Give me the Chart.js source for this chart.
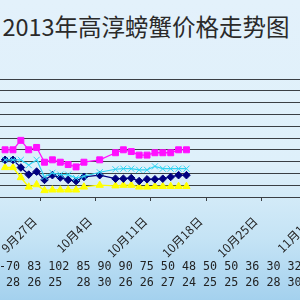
<!DOCTYPE html>
<html>
<head>
<meta charset="utf-8">
<script src="https://cdn.jsdelivr.net/npm/chart.js@4.4.1/dist/chart.umd.min.js"></script>
<style>
  html, body { margin: 0; padding: 0; }
  body {
    width: 300px; height: 300px; overflow: hidden; position: relative;
    background: linear-gradient(to bottom, #e3f1fb 0%, #def0fa 55%, #c4e3f5 80%, #a4d1ee 100%);
  }
  #title {
    position: absolute; left: 0; top: 13px; width: 292px;
    text-align: center; white-space: nowrap;
    font: 23.5px/26px "Noto Sans CJK SC", sans-serif; color: #2a2a2a;
  }
  /* canvas is wider than the window: the reference is a crop of a bigger chart */
  #wrap { position: absolute; left: -30px; top: 0; width: 370px; height: 300px; }
  .row {
    position: absolute; left: -1px; white-space: pre;
    font: 11.7px/14px "DejaVu Sans Mono", monospace; color: #222;
  }
</style>
</head>
<body>
<div id="title">2013年高淳螃蟹价格走势图</div>
<div id="wrap"><canvas id="priceChart"></canvas></div>
<div class="row" id="row1" style="top:259px"></div>
<div class="row" id="row2" style="top:275px"></div>

<script>
// one point per day, 9月22日 .. 10月15日 (null = no quote that day)
const dates = ['9月22日','9月23日','9月24日','9月25日','9月26日','9月27日','9月28日','9月29日',
  '9月30日','10月1日','10月2日','10月3日','10月4日','10月5日','10月6日','10月7日',
  '10月8日','10月9日','10月10日','10月11日','10月12日','10月13日','10月14日','10月15日'];

const pinkSeries   = [80, 80, 96, 80, 84, 59, 63, 59, 55, 51, 59, null, 63, null, 75, 80, 77, 71, 71, 75, 75, 75, 80, 80];
const cyanSeries   = [63, 63, 63, 54, 63, 34, 41, 38, 38, 32, 35, null, 42, null, 47, 48, 48, 46, 46, 52, 48, 48, 48, 48];
const navySeries   = [63, 63, 50, 38, 43, 29, 37, 33, 29, 27, 34, null, 37, null, 31, 31, 32, 27, 30, 30, 31, 34, 37, 37];
const yellowSeries = [50, 50, 33, 17, 21, 11, 12, 12, 12, 12, 17, null, 20, null, 19, 20, 20, 17, 17, 18, 18, 18, 18, 18];

// weekly axis ticks (day number counted from 9月22日)
const tickDays   = [5, 12, 19, 26, 33, 40];
const tickLabels = ['9月27日', '10月4日', '10月11日', '10月18日', '10月25日', '11月1日'];

// text rows printed under the chart
const tableRow1 = '-70 83 102 85 90 90 75 50 48 50 50 36 30 32';
const tableRow2 = ' 28 26 25  28 30 26 26 27 24 25 25 26 28 30';

document.getElementById('row1').textContent = tableRow1;
document.getElementById('row2').textContent = tableRow2;

const toPoints = (values) => values.map((v, i) => ({ x: i + 0.5, y: v }));

const series = [
  { label: '规格一', data: pinkSeries,   color: '#ff10ff', style: 'rect',     radius: 4.2, width: 1.3 },
  { label: '规格二', data: cyanSeries,   color: '#33d4f2', style: 'crossRot', radius: 4.3, width: 1.2 },
  { label: '规格三', data: navySeries,   color: '#000080', style: 'rectRot',  radius: 3.8, width: 1.3 },
  { label: '规格四', data: yellowSeries, color: '#ffff00', style: 'triangle', radius: 4.2, width: 1.3 }
];

new Chart(document.getElementById('priceChart'), {
  type: 'line',
  data: {
    datasets: series.map(s => ({
      label: s.label,
      data: toPoints(s.data),
      borderColor: s.color,
      backgroundColor: s.color,
      borderWidth: s.width,
      pointStyle: s.style,
      pointRadius: s.radius,
      pointBorderWidth: 1,
      pointBackgroundColor: s.color,
      pointBorderColor: s.color,
      spanGaps: true,
      tension: 0
    }))
  },
  options: {
    responsive: true,
    maintainAspectRatio: false,
    animation: false,
    layout: { padding: { top: 79, left: 0, right: 0, bottom: 0 } },
    plugins: { legend: { display: false }, tooltip: { enabled: false }, title: { display: false } },
    scales: {
      x: {
        type: 'linear',
        min: -3.276,
        max: 41.96,
        afterBuildTicks: (scale) => { scale.ticks = tickDays.map(v => ({ value: v })); },
        afterFit: (scale) => { scale.height = 103; },
        ticks: {
          autoSkip: false,
          minRotation: 45,
          maxRotation: 45,
          padding: 13,
          labelOffset: -6,
          color: '#222',
          font: { family: '"Noto Sans CJK SC", sans-serif', size: 12 },
          callback: (value) => tickLabels[tickDays.indexOf(value)]
        },
        grid: { drawOnChartArea: false, drawTicks: true, tickLength: 4, color: '#3a3f44' },
        border: { display: true, color: '#3a3f44', width: 1 }
      },
      y: {
        min: 0,
        max: 200,
        ticks: { display: false, stepSize: 20 },
        grid: { color: '#3a3f44', drawTicks: false, lineWidth: 1 },
        border: { display: false }
      }
    }
  }
});
</script>
</body>
</html>
